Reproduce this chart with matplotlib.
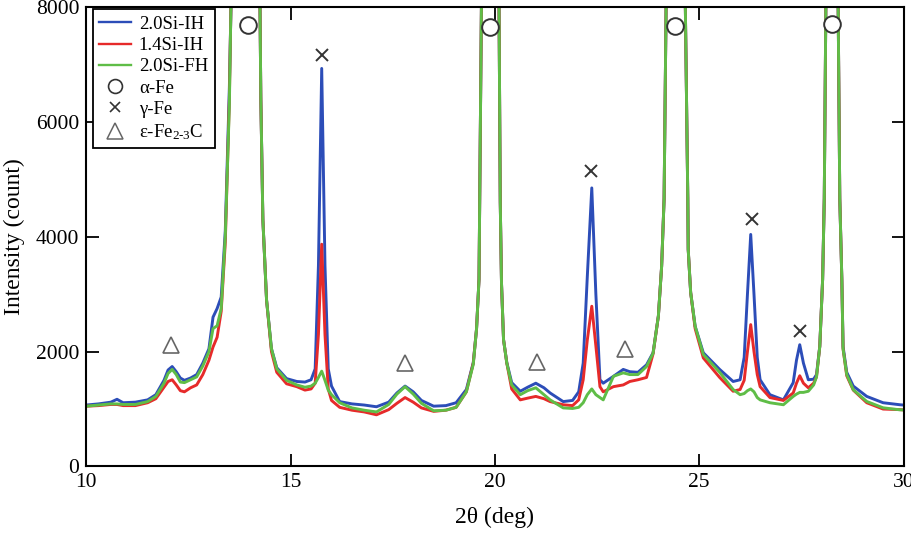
import numpy as np
import matplotlib.pyplot as plt
from matplotlib.lines import Line2D

plt.rcParams['font.family'] = ['Liberation Serif', 'DejaVu Serif']
plt.rcParams['mathtext.fontset'] = 'custom'
plt.rcParams['mathtext.rm'] = 'Liberation Serif'
plt.rcParams['mathtext.it'] = 'Liberation Serif:italic'

# 2theta grid (deg)
two_theta = [10.0, 10.3, 10.6, 10.75, 10.9, 11.2, 11.5, 11.7, 11.9, 12.0, 12.1, 12.2,
             12.3, 12.4, 12.55, 12.7, 12.85, 13.0, 13.1, 13.2, 13.3, 13.4, 13.5, 13.54,
             13.95, 14.25, 14.27, 14.32, 14.41, 14.53, 14.66, 14.9, 15.15, 15.35, 15.5,
             15.6, 15.68, 15.76, 15.84, 15.92, 16.0, 16.2, 16.5, 16.8, 17.1, 17.4, 17.6,
             17.8, 18.0, 18.2, 18.5, 18.8, 19.05, 19.3, 19.47, 19.55, 19.61, 19.67,
             19.89, 20.1, 20.13, 20.16, 20.21, 20.29, 20.41, 20.62, 20.8, 21.0, 21.2,
             21.35, 21.67, 21.9, 22.05, 22.16, 22.26, 22.37, 22.47, 22.57, 22.65, 22.9,
             23.14, 23.3, 23.5, 23.71, 23.87, 24.0, 24.08, 24.14, 24.19, 24.42, 24.66,
             24.72, 24.73, 24.79, 24.9, 25.1, 25.5, 25.83, 26.0, 26.1, 26.18, 26.26,
             26.34, 26.42, 26.49, 26.73, 27.06, 27.3, 27.38, 27.46, 27.55, 27.67, 27.8,
             27.87, 27.95, 28.02, 28.06, 28.1, 28.25, 28.4, 28.44, 28.49, 28.52, 28.61,
             28.77, 29.1, 29.5, 29.91, 30.0]

si20_ih = [1070, 1090, 1120, 1170, 1110, 1120, 1160, 1250, 1500, 1680, 1740, 1650,
           1540, 1500, 1540, 1600, 1800, 2050, 2600, 2750, 2950, 4100, 6600, 8000,
           80000, 8000, 6400, 4300, 2900, 2050, 1720, 1530, 1480, 1470, 1510,
           1700, 3500, 6930, 3500, 1700, 1400, 1130, 1090, 1070, 1040, 1120, 1280,
           1400, 1300, 1150, 1050, 1060, 1110, 1340, 1810, 2400, 3260, 8000,
           80000, 8000, 4600, 3200, 2210, 1810, 1460, 1310, 1380, 1450, 1370,
           1280, 1130, 1150, 1300, 1800, 3300, 4850, 3000, 1510, 1450, 1570,
           1690, 1650, 1640, 1770, 1980, 2620, 3490, 4660, 8000, 80000, 8000,
           4660, 3780, 3030, 2440, 1980, 1690, 1480, 1510, 1900, 3000, 4040,
           3000, 1900, 1510, 1250, 1160, 1460, 1850, 2120, 1800, 1510, 1520,
           1600, 2090, 3260, 4660, 8000, 80000, 8000, 4660, 3260, 2090, 1640,
           1400, 1220, 1110, 1075, 1070]

si14_ih = [1050, 1060, 1080, 1080, 1060, 1060, 1110, 1180, 1380, 1480, 1510, 1420,
           1320, 1300, 1370, 1420, 1600, 1850, 2080, 2250, 2700, 3900, 6400, 8000,
           80000, 8000, 6400, 4300, 2900, 2000, 1640, 1440, 1390, 1330, 1350,
           1450, 2300, 3870, 2300, 1350, 1150, 1030, 980, 950, 900, 990, 1100,
           1200, 1120, 1020, 960, 980, 1030, 1300, 1800, 2400, 3260, 8000,
           80000, 8000, 4600, 3200, 2210, 1800, 1350, 1160, 1190, 1220, 1180,
           1130, 1075, 1060, 1160, 1510, 2200, 2790, 2100, 1390, 1300, 1390,
           1420, 1480, 1510, 1550, 1960, 2620, 3490, 4660, 8000, 80000, 8000,
           4660, 3780, 3030, 2400, 1890, 1550, 1310, 1340, 1500, 2000, 2470,
           2000, 1600, 1390, 1200, 1150, 1280, 1450, 1580, 1450, 1370, 1450,
           1560, 2090, 3260, 4660, 8000, 80000, 8000, 4660, 3260, 2050, 1580,
           1330, 1110, 1000, 990, 985]

si20_fh = [1050, 1070, 1090, 1090, 1080, 1080, 1130, 1220, 1450, 1620, 1690, 1600,
           1470, 1460, 1510, 1560, 1750, 2000, 2400, 2450, 2750, 4000, 6300, 8000,
           80000, 8000, 6400, 4300, 2900, 2050, 1700, 1500, 1420, 1380, 1400,
           1450, 1550, 1660, 1500, 1330, 1250, 1110, 1020, 980, 950, 1080, 1260,
           1390, 1260, 1100, 970, 980, 1030, 1300, 1780, 2400, 3260, 8000,
           80000, 8000, 4600, 3200, 2210, 1800, 1420, 1250, 1320, 1370, 1250,
           1160, 1020, 1010, 1030, 1110, 1250, 1350, 1250, 1200, 1160, 1570,
           1630, 1600, 1600, 1740, 1970, 2620, 3490, 4660, 8000, 80000, 8000,
           4660, 3780, 3030, 2440, 1950, 1640, 1340, 1250, 1270, 1320, 1350,
           1300, 1200, 1160, 1110, 1075, 1220, 1260, 1290, 1290, 1310, 1420,
           1560, 2090, 3260, 4660, 8000, 80000, 8000, 4660, 3260, 2050, 1600,
           1336, 1132, 1022, 987, 985]

# phase markers
alpha_x = [13.95, 19.89, 24.41, 28.25]
alpha_y = [7680, 7655, 7665, 7695]
gamma_x = [15.77, 22.35, 26.28, 27.46]
gamma_y = [7170, 5150, 4306, 2367]
eps_x = [12.07, 17.81, 21.02, 23.18]
eps_y = [2110, 1803, 1813, 2053]

blue = '#2c4db8'
red = '#e62a2a'
green = '#5fbd47'

fig = plt.figure(figsize=(9.11, 5.37), dpi=100)
ax = fig.add_axes([0.0948, 0.1313, 0.897, 0.8557])

ax.plot(two_theta, si20_ih, color=blue, lw=2.1)
ax.plot(two_theta, si14_ih, color=red, lw=2.1)
ax.plot(two_theta, si20_fh, color=green, lw=2.1)

ax.plot(alpha_x, alpha_y, ls='none', marker='o', ms=12, mfc='white', mec='#333333', mew=1.4)
ax.plot(gamma_x, gamma_y, ls='none', marker='x', ms=8, mec='#333333', mew=1.4)
ax.plot(eps_x, eps_y, ls='none', marker='^', ms=12, mfc='none', mec='#666666', mew=1.2)

ax.set_xlim(10, 30)
ax.set_ylim(0, 8000)
ax.set_xticks([10, 15, 20, 25, 30])
ax.set_yticks([0, 2000, 4000, 6000, 8000])
ax.tick_params(direction='in', length=9, width=1.3, top=True, right=True,
               labelsize=15.5, pad=5)
for s in ax.spines.values():
    s.set_linewidth(1.5)

ax.set_xlabel('2θ (deg)', fontsize=17, labelpad=10)
ax.set_ylabel('Intensity (count)', fontsize=17, labelpad=8)

handles = [Line2D([], [], color=blue, lw=1.7),
           Line2D([], [], color=red, lw=1.7),
           Line2D([], [], color=green, lw=1.7),
           Line2D([], [], ls='none', marker='o', ms=10, mfc='none', mec='#333333', mew=1.2),
           Line2D([], [], ls='none', marker='x', ms=7, mec='#333333', mew=1.2),
           Line2D([], [], ls='none', marker='^', ms=11, mfc='none', mec='#666666', mew=1.1)]
labels = ['2.0Si-IH', '1.4Si-IH', '2.0Si-FH', 'α-Fe', 'γ-Fe', r'ε-Fe$_{\mathrm{2\text{-}3}}$C']
leg = ax.legend(handles, labels, loc='upper left', bbox_to_anchor=(0.008, 0.995),
                borderaxespad=0, fontsize=13.5, handlelength=1.7, handletextpad=0.4,
                labelspacing=0.22, borderpad=0.35, fancybox=False, framealpha=1)
leg.get_frame().set_edgecolor('black')
leg.get_frame().set_linewidth(1.3)

fig.savefig('out.png', dpi=100)
